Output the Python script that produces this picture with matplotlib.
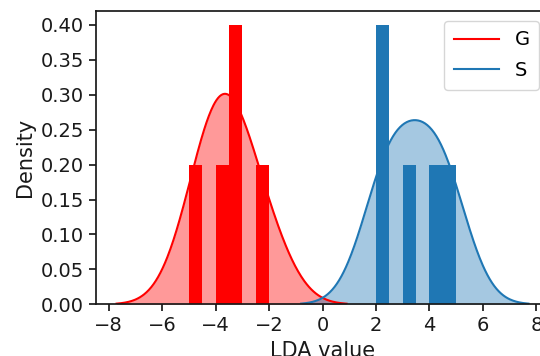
import numpy as np
import matplotlib
matplotlib.use("Agg")
import matplotlib.pyplot as plt

# Histogram bars (left edge of bin, density height)
g_bin_left = [-5.0, -4.0, -3.5, -2.5]
g_heights = [0.2, 0.2, 0.4, 0.2]
s_bin_left = [2.0, 3.0, 4.0, 4.5]
s_heights = [0.4, 0.2, 0.2, 0.2]
bin_width = 0.5

# Sample values used for the smooth density curves
g_samples = [-4.7, -3.95, -3.5, -3.35, -2.1]
s_samples = [2.35, 2.45, 3.45, 4.45, 4.55]
g_bw = 1.0
s_bw = 1.0

labels = ["G", "S"]
colors = ["red", "#1f77b4"]


def kde(samples, bw, cut=3.0, n=300):
    s = np.asarray(samples, dtype=float)
    x = np.linspace(s.min() - cut * bw, s.max() + cut * bw, n)
    y = np.exp(-0.5 * ((x[:, None] - s[None, :]) / bw) ** 2).sum(axis=1)
    y /= (len(s) * bw * np.sqrt(2 * np.pi))
    return x, y


fig = plt.figure(figsize=(5.4, 3.56), dpi=100)
ax = fig.add_axes([96 / 540, 51.7 / 356, 453 / 540, 293.3 / 356])

for samples, bw, c, lab, cut in [(g_samples, g_bw, colors[0], labels[0], 3.0),
                                 (s_samples, s_bw, colors[1], labels[1], 3.15)]:
    x, y = kde(samples, bw, cut=cut)
    ax.fill_between(x, y, color=c, alpha=0.4, linewidth=0)
    ax.plot(x, y, color=c, lw=1.5, label=lab)

ax.bar(g_bin_left, g_heights, width=bin_width, align="edge", color=colors[0])
ax.bar(s_bin_left, s_heights, width=bin_width, align="edge", color=colors[1])

ax.set_xlim(-8.47, 8.47)
ax.set_ylim(0, 0.42)
ax.set_xticks(np.arange(-8, 9, 2))
ax.set_yticks(np.arange(0, 0.41, 0.05))
ax.yaxis.set_major_formatter(matplotlib.ticker.FormatStrFormatter("%.2f"))

dark = "0.1"
for sp in ax.spines.values():
    sp.set_color(dark)
    sp.set_linewidth(1.25)
ax.tick_params(axis="both", labelsize=14, colors=dark, width=1.25, length=5)
ax.set_xlabel("LDA value", fontsize=15, color=dark)
ax.set_ylabel("Density", fontsize=15, color=dark)

ax.legend(loc="upper right", fontsize=14, handlelength=2.3,
          labelspacing=0.6, borderpad=0.5)

fig.savefig("out.png", dpi=100)
